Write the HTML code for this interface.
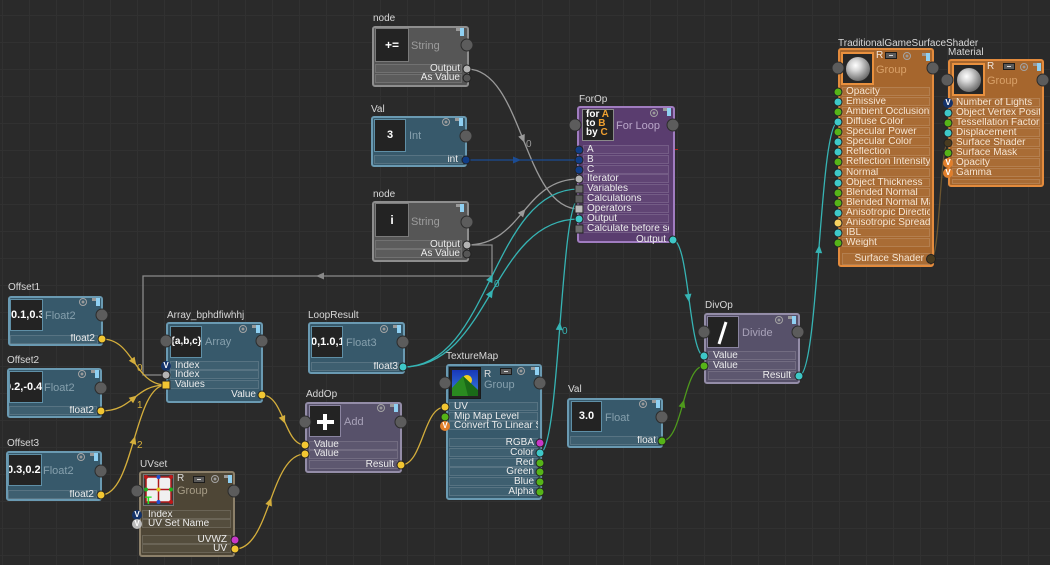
<!DOCTYPE html>
<html><head><meta charset="utf-8"><style>
*{margin:0;padding:0}
body{width:1050px;height:565px;overflow:hidden;position:relative;background:#2a2a2a;font-family:"Liberation Sans",Arial,sans-serif}
#grid{position:absolute;left:0;top:0;width:1050px;height:565px;background-image:linear-gradient(#313131 1px,transparent 1px),linear-gradient(90deg,#313131 1px,transparent 1px);background-size:27px 27px;background-position:2px 15px}
.a{position:absolute}
.n{position:absolute;box-sizing:border-box;border:2px solid;border-radius:3px}
.tl{background:#37596b;border-color:#6a9ab2}
.gy{background:#565656;border-color:#8e8e8e}
.pu{background:#5a3d6f;border-color:#a07cc0}
.lv{background:#57516a;border-color:#948da8}
.ol{background:#4e4636;border-color:#8c806a}
.or{background:#a6662d;border-color:#e38b3d}
.lb{position:absolute;font-size:10px;line-height:12px;color:#d8d8d8;white-space:nowrap}
.th{position:absolute;box-sizing:border-box;background:#232323;border:1px solid #5f8fa6;color:#fff;font-weight:bold;text-align:center;overflow:hidden;white-space:nowrap;font-size:11px}
.ty{position:absolute;font-size:11px;line-height:12px;color:#86a0ad;white-space:nowrap}
.b{position:absolute;height:9px;box-sizing:border-box;border:1px solid rgba(255,255,255,.13);background:rgba(255,255,255,.04)}
.t{position:absolute;font-size:10px;line-height:10px;color:#ececec;white-space:nowrap;overflow:hidden}
.r{text-align:right}
.c{position:absolute;transform:translate(-50%,-50%);box-sizing:border-box;border-radius:50%}
.mp{width:13px;height:13px;background:#5c5c5c;border:1px solid #2c2c2c}
.p{width:9px;height:9px;border:1px solid #222}
.sq{border-radius:0}
.cy{background:#3ec8c8}.gn{background:#56b418}.yl{background:#f2c632}.mg{background:#c838c8}.bl{background:#113d86}.lg{background:#b4b4b4}.dg{background:#565656}.br{background:#4a3c20}
.v{width:10px;height:10px;font-size:8px;line-height:10px;text-align:center;font-weight:bold;color:#fff;background:#14336a;border:none}
.vo{background:#e07f2c}
.vw{background:#bcbcbc}
.gear{width:8px;height:8px;border:1.5px solid #a4a4a4;background:radial-gradient(circle,#999 0 1.2px,transparent 1.8px)}
.li{position:absolute;width:4px;height:8px;background:#8fd0f2}
.li:before{content:"";position:absolute;left:-4px;top:0;width:4px;height:3px;background:#9a9a9a}
.ri{position:absolute;width:12px;height:7px;box-sizing:border-box;border:1px solid #1c1c1c;background:#5a5a5a}
.ri:after{content:"";position:absolute;left:3px;top:2px;width:4px;height:1px;background:#ddd}
.R{position:absolute;font-size:10px;line-height:12px;color:#f0e6dc}
</style></head><body>
<div id="grid"></div>

<svg class="a" style="left:0;top:0" width="1050" height="565">
<g fill="none" stroke-width="1.3">
<path d="M467,69 C523,69 523,209 579,209" stroke="#9a9a9a"/>
<path d="M466,160 L579,160" stroke="#1b4c94"/>
<path d="M467,245 C523,245 523,179 579,179" stroke="#9a9a9a"/>
<path d="M467,245 H492 V276 H143 V375 H166" stroke="#8a8a8a"/>
<path d="M403,367 C491,367 491,189 579,189" stroke="#36b4b4"/>
<path d="M403,367 C491,367 491,219 579,219" stroke="#36b4b4"/>
<path d="M540,453 C560,453 560,199 579,199" stroke="#36b4b4"/>
<path d="M673,240 C689,240 689,356 704,356" stroke="#36b4b4"/>
<path d="M799,376 C819,376 819,122 838,122" stroke="#36b4b4"/>
<path d="M662,441 C683,441 683,366 704,366" stroke="#4e9a1c"/>
<path d="M102,339 C134,339 134,385 166,385" stroke="#d4ae3c"/>
<path d="M101,411 C134,411 134,385 166,385" stroke="#d4ae3c"/>
<path d="M101,495 C134,495 134,385 166,385" stroke="#d4ae3c"/>
<path d="M262,395 C284,395 284,445 305,445" stroke="#d4ae3c"/>
<path d="M235,549 C270,549 270,454 305,454" stroke="#d4ae3c"/>
<path d="M401,465 C423,465 423,407 445,407" stroke="#d4ae3c"/>
<path d="M931,259 C940,259 940,143 948,143" stroke="#6b5530"/>
</g>
<g>
<polygon points="-4,-3.5 4,0 -4,3.5" fill="#9a9a9a" transform="translate(523,139) rotate(68.2)"/>
<polygon points="-4,-3.5 4,0 -4,3.5" fill="#1b4c94" transform="translate(517,160)"/>
<polygon points="-4,-3.5 4,0 -4,3.5" fill="#9a9a9a" transform="translate(523,212) rotate(-49.7)"/>
<polygon points="-4,-3.5 4,0 -4,3.5" fill="#8a8a8a" transform="translate(320,276) rotate(180)"/>
<polygon points="-4,-3.5 4,0 -4,3.5" fill="#36b4b4" transform="translate(491,278) rotate(-63.7)"/>
<polygon points="-4,-3.5 4,0 -4,3.5" fill="#36b4b4" transform="translate(491,293) rotate(-59.3)"/>
<polygon points="-4,-3.5 4,0 -4,3.5" fill="#36b4b4" transform="translate(559.5,326) rotate(-85.6)"/>
<polygon points="-4,-3.5 4,0 -4,3.5" fill="#36b4b4" transform="translate(688.5,298) rotate(82.4)"/>
<polygon points="-4,-3.5 4,0 -4,3.5" fill="#36b4b4" transform="translate(819,249) rotate(-85.6)"/>
<polygon points="-4,-3.5 4,0 -4,3.5" fill="#4e9a1c" transform="translate(683,403.5) rotate(-74.4)"/>
<polygon points="-4,-3.5 4,0 -4,3.5" fill="#d4ae3c" transform="translate(134,362) rotate(55.2)"/>
<polygon points="-4,-3.5 4,0 -4,3.5" fill="#d4ae3c" transform="translate(134,398) rotate(-38.7)"/>
<polygon points="-4,-3.5 4,0 -4,3.5" fill="#d4ae3c" transform="translate(134,440) rotate(-73.6)"/>
<polygon points="-4,-3.5 4,0 -4,3.5" fill="#d4ae3c" transform="translate(283.5,420) rotate(66.7)"/>
<polygon points="-4,-3.5 4,0 -4,3.5" fill="#d4ae3c" transform="translate(270,501.5) rotate(-69.8)"/>
</g>
<g font-family="Liberation Sans, sans-serif" font-size="10">
<text x="526" y="147" fill="#9a9a9a">0</text>
<text x="494" y="287" fill="#36b4b4">0</text>
<text x="562" y="334" fill="#36b4b4">0</text>
<text x="137" y="371" fill="#d4ae3c">0</text>
<text x="137" y="408" fill="#d4ae3c">1</text>
<text x="137" y="448" fill="#d4ae3c">2</text>
</g>
<rect x="674" y="149" width="4" height="1" fill="#c02020"/>
</svg>

<!-- node += String -->
<div class="lb" style="left:373px;top:13px">node</div>
<div class="n gy" style="left:372px;top:26px;width:97px;height:61px"></div>
<div class="th" style="left:375px;top:28px;width:34px;height:34px;border-color:#7a7a7a;font-size:12px;line-height:32px">+=</div>
<div class="ty" style="left:411px;top:40px;color:#9c9c9c">String</div>
<div class="li" style="left:460px;top:28px"></div>
<div class="b" style="left:375px;top:64px;width:87px"></div>
<div class="b" style="left:375px;top:74px;width:87px"></div>
<div class="t r" style="left:375px;top:64px;width:85px">Output</div>
<div class="t r" style="left:375px;top:73px;width:85px">As Value</div>
<div class="c mp" style="left:467px;top:45px"></div>
<div class="c p lg" style="left:467px;top:69px"></div>
<div class="c p dg" style="left:467px;top:78px"></div>

<!-- Val Int -->
<div class="lb" style="left:371px;top:104px">Val</div>
<div class="n tl" style="left:371px;top:116px;width:96px;height:51px"></div>
<div class="th" style="left:374px;top:119px;width:32px;height:33px;line-height:31px">3</div>
<div class="ty" style="left:409px;top:130px">Int</div>
<div class="c gear" style="left:446px;top:122px"></div>
<div class="li" style="left:459px;top:118px"></div>
<div class="b" style="left:374px;top:155px;width:89px"></div>
<div class="t r" style="left:374px;top:155px;width:84px">int</div>
<div class="c mp" style="left:466px;top:136px"></div>
<div class="c p bl" style="left:466px;top:160px"></div>

<!-- node i String -->
<div class="lb" style="left:373px;top:189px">node</div>
<div class="n gy" style="left:372px;top:201px;width:97px;height:61px"></div>
<div class="th" style="left:375px;top:203px;width:34px;height:34px;border-color:#7a7a7a;font-size:12px;line-height:32px">i</div>
<div class="ty" style="left:411px;top:216px;color:#9c9c9c">String</div>
<div class="li" style="left:460px;top:204px"></div>
<div class="b" style="left:375px;top:240px;width:87px"></div>
<div class="b" style="left:375px;top:249px;width:87px"></div>
<div class="t r" style="left:375px;top:240px;width:85px">Output</div>
<div class="t r" style="left:375px;top:249px;width:85px">As Value</div>
<div class="c mp" style="left:467px;top:222px"></div>
<div class="c p lg" style="left:467px;top:245px"></div>
<div class="c p dg" style="left:467px;top:254px"></div>

<!-- ForOp -->
<div class="lb" style="left:579px;top:94px">ForOp</div>
<div class="n pu" style="left:577px;top:106px;width:98px;height:137px"></div>
<div class="th" style="left:582px;top:109px;width:32px;height:32px;border-color:#8a8a8a"></div>
<div class="a" style="left:586px;top:110px;font-size:10px;line-height:9px;font-weight:bold;color:#fff;white-space:nowrap">for <span style="color:#f0a030">A</span><br>to <span style="color:#f0a030">B</span><br>by <span style="color:#f0a030">C</span></div>
<div class="ty" style="left:616px;top:120px;color:#b9a6c9">For Loop</div>
<div class="c gear" style="left:654px;top:113px"></div>
<div class="li" style="left:667px;top:108px"></div>
<div class="b" style="left:583px;top:145px;width:86px"></div>
<div class="b" style="left:583px;top:155px;width:86px"></div>
<div class="b" style="left:583px;top:165px;width:86px"></div>
<div class="b" style="left:583px;top:174px;width:86px"></div>
<div class="b" style="left:583px;top:184px;width:86px"></div>
<div class="b" style="left:583px;top:194px;width:86px"></div>
<div class="b" style="left:583px;top:204px;width:86px"></div>
<div class="b" style="left:583px;top:214px;width:86px"></div>
<div class="b" style="left:583px;top:224px;width:86px"></div>
<div class="t" style="left:587px;top:145px;width:82px">A</div>
<div class="t" style="left:587px;top:155px;width:82px">B</div>
<div class="t" style="left:587px;top:165px;width:82px">C</div>
<div class="t" style="left:587px;top:174px;width:82px">Iterator</div>
<div class="t" style="left:587px;top:184px;width:82px">Variables</div>
<div class="t" style="left:587px;top:194px;width:82px">Calculations</div>
<div class="t" style="left:587px;top:204px;width:82px">Operators</div>
<div class="t" style="left:587px;top:214px;width:82px">Output</div>
<div class="t" style="left:587px;top:224px;width:82px">Calculate before sc</div>
<div class="t r" style="left:587px;top:235px;width:79px">Output</div>
<div class="c mp" style="left:575px;top:125px"></div>
<div class="c mp" style="left:673px;top:125px"></div>
<div class="c p bl" style="left:579px;top:150px"></div>
<div class="c p bl" style="left:579px;top:160px"></div>
<div class="c p bl" style="left:579px;top:170px"></div>
<div class="c p lg" style="left:579px;top:179px"></div>
<div class="c p sq" style="left:579px;top:189px;background:#6e6e6e"></div>
<div class="c p sq" style="left:579px;top:199px;background:#5e5e5e"></div>
<div class="c p sq" style="left:579px;top:209px;background:#bcbcbc"></div>
<div class="c p cy" style="left:579px;top:219px"></div>
<div class="c p sq" style="left:579px;top:229px;background:#6e6e6e"></div>
<div class="c p cy" style="left:673px;top:240px"></div>

<!-- TraditionalGameSurfaceShader -->
<div class="lb" style="left:838px;top:38px">TraditionalGameSurfaceShader</div>
<div class="n or" style="left:838px;top:48px;width:96px;height:219px"></div>
<div class="th" style="left:841px;top:52px;width:33px;height:33px;border:2px solid #e8903e;background:#262626"><div style="position:absolute;left:3px;top:3px;width:24px;height:24px;border-radius:50%;background:radial-gradient(circle at 40% 35%,#ffffff 0,#d8d8d8 25%,#8a8a8a 60%,#3a3a3a 100%)"></div></div>
<div class="R" style="left:876px;top:50px">R</div>
<div class="ri" style="left:885px;top:52px"></div>
<div class="c gear" style="left:907px;top:56px"></div>
<div class="li" style="left:926px;top:53px"></div>
<div class="ty" style="left:876px;top:64px;color:#d8a068">Group</div>
<div class="c mp" style="left:838px;top:68px"></div>
<div class="c mp" style="left:933px;top:68px"></div>
<div class="b" style="left:842px;top:87px;width:88px"></div>
<div class="b" style="left:842px;top:97px;width:88px"></div>
<div class="b" style="left:842px;top:107px;width:88px"></div>
<div class="b" style="left:842px;top:117px;width:88px"></div>
<div class="b" style="left:842px;top:127px;width:88px"></div>
<div class="b" style="left:842px;top:137px;width:88px"></div>
<div class="b" style="left:842px;top:147px;width:88px"></div>
<div class="b" style="left:842px;top:157px;width:88px"></div>
<div class="b" style="left:842px;top:168px;width:88px"></div>
<div class="b" style="left:842px;top:178px;width:88px"></div>
<div class="b" style="left:842px;top:188px;width:88px"></div>
<div class="b" style="left:842px;top:198px;width:88px"></div>
<div class="b" style="left:842px;top:208px;width:88px"></div>
<div class="b" style="left:842px;top:218px;width:88px"></div>
<div class="b" style="left:842px;top:228px;width:88px"></div>
<div class="b" style="left:842px;top:238px;width:88px"></div>
<div class="t" style="left:846px;top:87px;width:84px;color:#f6e6d4">Opacity</div>
<div class="t" style="left:846px;top:97px;width:84px;color:#f6e6d4">Emissive</div>
<div class="t" style="left:846px;top:107px;width:84px;color:#f6e6d4">Ambient Occlusion</div>
<div class="t" style="left:846px;top:117px;width:84px;color:#f6e6d4">Diffuse Color</div>
<div class="t" style="left:846px;top:127px;width:84px;color:#f6e6d4">Specular Power</div>
<div class="t" style="left:846px;top:137px;width:84px;color:#f6e6d4">Specular Color</div>
<div class="t" style="left:846px;top:147px;width:84px;color:#f6e6d4">Reflection</div>
<div class="t" style="left:846px;top:157px;width:84px;color:#f6e6d4">Reflection Intensity</div>
<div class="t" style="left:846px;top:168px;width:84px;color:#f6e6d4">Normal</div>
<div class="t" style="left:846px;top:178px;width:84px;color:#f6e6d4">Object Thickness</div>
<div class="t" style="left:846px;top:188px;width:84px;color:#f6e6d4">Blended Normal</div>
<div class="t" style="left:846px;top:198px;width:84px;color:#f6e6d4">Blended Normal Map</div>
<div class="t" style="left:846px;top:208px;width:84px;color:#f6e6d4">Anisotropic Direction</div>
<div class="t" style="left:846px;top:218px;width:84px;color:#f6e6d4">Anisotropic Spread</div>
<div class="t" style="left:846px;top:228px;width:84px;color:#f6e6d4">IBL</div>
<div class="t" style="left:846px;top:238px;width:84px;color:#f6e6d4">Weight</div>
<div class="b" style="left:842px;top:253px;width:88px;height:12px"></div>
<div class="t r" style="left:842px;top:254px;width:82px;color:#f6e6d4">Surface Shader</div>
<div class="c p gn" style="left:838px;top:92px"></div>
<div class="c p cy" style="left:838px;top:102px"></div>
<div class="c p gn" style="left:838px;top:112px"></div>
<div class="c p cy" style="left:838px;top:122px"></div>
<div class="c p gn" style="left:838px;top:132px"></div>
<div class="c p cy" style="left:838px;top:142px"></div>
<div class="c p cy" style="left:838px;top:152px"></div>
<div class="c p gn" style="left:838px;top:162px"></div>
<div class="c p cy" style="left:838px;top:173px"></div>
<div class="c p cy" style="left:838px;top:183px"></div>
<div class="c p gn" style="left:838px;top:193px"></div>
<div class="c p gn" style="left:838px;top:203px"></div>
<div class="c p cy" style="left:838px;top:213px"></div>
<div class="c p" style="left:838px;top:223px;background:#f4d060"></div>
<div class="c p cy" style="left:838px;top:233px"></div>
<div class="c p gn" style="left:838px;top:243px"></div>
<div class="c p br" style="left:931px;top:259px;width:10px;height:10px"></div>

<!-- Material -->
<div class="lb" style="left:948px;top:47px">Material</div>
<div class="n or" style="left:948px;top:59px;width:96px;height:128px"></div>
<div class="th" style="left:952px;top:63px;width:33px;height:33px;border:2px solid #e8903e;background:#262626"><div style="position:absolute;left:3px;top:3px;width:24px;height:24px;border-radius:50%;background:radial-gradient(circle at 40% 35%,#ffffff 0,#d8d8d8 25%,#8a8a8a 60%,#3a3a3a 100%)"></div></div>
<div class="R" style="left:987px;top:61px">R</div>
<div class="ri" style="left:1003px;top:63px"></div>
<div class="c gear" style="left:1024px;top:67px"></div>
<div class="li" style="left:1037px;top:63px"></div>
<div class="ty" style="left:987px;top:75px;color:#d8a068">Group</div>
<div class="c mp" style="left:947px;top:80px"></div>
<div class="c mp" style="left:1043px;top:80px"></div>
<div class="b" style="left:952px;top:98px;width:88px"></div>
<div class="b" style="left:952px;top:108px;width:88px"></div>
<div class="b" style="left:952px;top:118px;width:88px"></div>
<div class="b" style="left:952px;top:128px;width:88px"></div>
<div class="b" style="left:952px;top:138px;width:88px"></div>
<div class="b" style="left:952px;top:148px;width:88px"></div>
<div class="b" style="left:952px;top:158px;width:88px"></div>
<div class="b" style="left:952px;top:168px;width:88px"></div>
<div class="b" style="left:952px;top:179px;width:88px;height:5px"></div>
<div class="t" style="left:956px;top:98px;width:84px;color:#f6e6d4">Number of Lights</div>
<div class="t" style="left:956px;top:108px;width:84px;color:#f6e6d4">Object Vertex Position</div>
<div class="t" style="left:956px;top:118px;width:84px;color:#f6e6d4">Tessellation Factor</div>
<div class="t" style="left:956px;top:128px;width:84px;color:#f6e6d4">Displacement</div>
<div class="t" style="left:956px;top:138px;width:84px;color:#f6e6d4">Surface Shader</div>
<div class="t" style="left:956px;top:148px;width:84px;color:#f6e6d4">Surface Mask</div>
<div class="t" style="left:956px;top:158px;width:84px;color:#f6e6d4">Opacity</div>
<div class="t" style="left:956px;top:168px;width:84px;color:#f6e6d4">Gamma</div>
<div class="c v" style="left:948px;top:103px">V</div>
<div class="c p cy" style="left:948px;top:113px"></div>
<div class="c p gn" style="left:948px;top:123px"></div>
<div class="c p cy" style="left:948px;top:133px"></div>
<div class="c p br" style="left:948px;top:143px"></div>
<div class="c p gn" style="left:948px;top:153px"></div>
<div class="c v vo" style="left:948px;top:163px">V</div>
<div class="c v vo" style="left:948px;top:173px">V</div>

<!-- Offset1 -->
<div class="lb" style="left:8px;top:282px">Offset1</div>
<div class="n tl" style="left:8px;top:296px;width:95px;height:50px"></div>
<div class="th" style="left:10px;top:299px;width:33px;height:32px;line-height:30px">0.1,0.3</div>
<div class="ty" style="left:45px;top:310px">Float2</div>
<div class="c gear" style="left:83px;top:302px"></div>
<div class="li" style="left:96px;top:298px"></div>
<div class="b" style="left:10px;top:335px;width:88px"></div>
<div class="t r" style="left:10px;top:334px;width:85px">float2</div>
<div class="c mp" style="left:102px;top:315px"></div>
<div class="c p yl" style="left:102px;top:339px"></div>

<!-- Offset2 -->
<div class="lb" style="left:7px;top:355px">Offset2</div>
<div class="n tl" style="left:7px;top:368px;width:95px;height:50px"></div>
<div class="th" style="left:9px;top:371px;width:34px;height:32px;line-height:30px"><span style="position:absolute;left:-5px;top:0">0.2,-0.4</span></div>
<div class="ty" style="left:44px;top:382px">Float2</div>
<div class="c gear" style="left:82px;top:374px"></div>
<div class="li" style="left:95px;top:370px"></div>
<div class="b" style="left:9px;top:406px;width:88px"></div>
<div class="t r" style="left:9px;top:406px;width:85px">float2</div>
<div class="c mp" style="left:101px;top:388px"></div>
<div class="c p yl" style="left:101px;top:411px"></div>

<!-- Offset3 -->
<div class="lb" style="left:7px;top:438px">Offset3</div>
<div class="n tl" style="left:6px;top:451px;width:96px;height:50px"></div>
<div class="th" style="left:8px;top:454px;width:34px;height:32px;line-height:30px"><span style="position:absolute;left:-2px;top:0">0.3,0.2</span></div>
<div class="ty" style="left:43px;top:465px">Float2</div>
<div class="c gear" style="left:81px;top:457px"></div>
<div class="li" style="left:94px;top:453px"></div>
<div class="b" style="left:8px;top:490px;width:89px"></div>
<div class="t r" style="left:8px;top:490px;width:86px">float2</div>
<div class="c mp" style="left:101px;top:471px"></div>
<div class="c p yl" style="left:101px;top:495px"></div>

<!-- Array -->
<div class="lb" style="left:167px;top:310px">Array_bphdfiwhhj</div>
<div class="n tl" style="left:166px;top:322px;width:97px;height:81px"></div>
<div class="th" style="left:170px;top:326px;width:32px;height:32px;line-height:30px;font-size:10px">{a,b,c}</div>
<div class="ty" style="left:205px;top:336px">Array</div>
<div class="c gear" style="left:243px;top:329px"></div>
<div class="li" style="left:256px;top:325px"></div>
<div class="b" style="left:170px;top:361px;width:89px"></div>
<div class="b" style="left:170px;top:370px;width:89px"></div>
<div class="b" style="left:170px;top:380px;width:89px"></div>
<div class="t" style="left:175px;top:361px;width:84px">Index</div>
<div class="t" style="left:175px;top:370px;width:84px">Index</div>
<div class="t" style="left:175px;top:380px;width:84px">Values</div>
<div class="t r" style="left:170px;top:390px;width:86px">Value</div>
<div class="c mp" style="left:166px;top:341px"></div>
<div class="c mp" style="left:262px;top:341px"></div>
<div class="c v" style="left:166px;top:366px">V</div>
<div class="c p lg" style="left:166px;top:375px"></div>
<div class="c p sq yl" style="left:166px;top:385px"></div>
<div class="c p yl" style="left:262px;top:395px"></div>

<!-- LoopResult -->
<div class="lb" style="left:308px;top:310px">LoopResult</div>
<div class="n tl" style="left:308px;top:322px;width:97px;height:52px"></div>
<div class="th" style="left:311px;top:326px;width:32px;height:32px;line-height:30px"><span style="position:absolute;left:-1px;top:0">0,1.0,1</span></div>
<div class="ty" style="left:346px;top:337px">Float3</div>
<div class="c gear" style="left:384px;top:329px"></div>
<div class="li" style="left:397px;top:325px"></div>
<div class="b" style="left:311px;top:362px;width:88px"></div>
<div class="t r" style="left:311px;top:362px;width:87px">float3</div>
<div class="c mp" style="left:403px;top:342px"></div>
<div class="c p cy" style="left:403px;top:367px"></div>

<!-- AddOp -->
<div class="lb" style="left:306px;top:389px">AddOp</div>
<div class="n lv" style="left:305px;top:402px;width:97px;height:71px"></div>
<div class="th" style="left:309px;top:405px;width:32px;height:32px;border-color:#8a84a0"></div>
<div class="a" style="left:317px;top:420px;width:17px;height:4px;background:#fff"></div>
<div class="a" style="left:323px;top:414px;width:4px;height:16px;background:#fff"></div>
<div class="ty" style="left:344px;top:416px;color:#a8a2b8">Add</div>
<div class="c gear" style="left:381px;top:408px"></div>
<div class="li" style="left:394px;top:404px"></div>
<div class="b" style="left:309px;top:441px;width:89px"></div>
<div class="b" style="left:309px;top:450px;width:89px"></div>
<div class="b" style="left:309px;top:460px;width:89px"></div>
<div class="t" style="left:314px;top:440px;width:84px">Value</div>
<div class="t" style="left:314px;top:449px;width:84px">Value</div>
<div class="t r" style="left:309px;top:460px;width:85px">Result</div>
<div class="c mp" style="left:305px;top:422px"></div>
<div class="c mp" style="left:401px;top:422px"></div>
<div class="c p yl" style="left:305px;top:445px"></div>
<div class="c p yl" style="left:305px;top:454px"></div>
<div class="c p yl" style="left:401px;top:465px"></div>

<!-- UVset -->
<div class="lb" style="left:140px;top:459px">UVset</div>
<div class="n ol" style="left:139px;top:471px;width:96px;height:86px"></div>
<div class="th" style="left:143px;top:474px;width:31px;height:32px;border-color:#777;background:#3a3a3a">
<svg width="29" height="30" style="position:absolute;left:0;top:0"><rect x="2" y="2" width="25" height="25" fill="#f0f0f0" stroke="#b01818" stroke-width="1.5"/><line x1="14.5" y1="2" x2="14.5" y2="27" stroke="#b01818" stroke-width="1.5"/><line x1="2" y1="14.5" x2="27" y2="14.5" stroke="#b01818" stroke-width="1.5"/><circle cx="2" cy="2" r="2" fill="#c01818"/><circle cx="14.5" cy="2" r="2" fill="#2050d0"/><circle cx="27" cy="2" r="2" fill="#c01818"/><circle cx="2" cy="14.5" r="2" fill="#20b020"/><circle cx="14.5" cy="14.5" r="2" fill="#e0d020"/><circle cx="27" cy="14.5" r="2" fill="#20b020"/><circle cx="14.5" cy="27" r="2" fill="#2050d0"/><circle cx="27" cy="27" r="2" fill="#c01818"/><text x="1" y="29" fill="#20e020" font-size="11" font-weight="bold" font-family="Liberation Sans, sans-serif">T</text></svg></div>
<div class="R" style="left:177px;top:473px;color:#ddd">R</div>
<div class="ri" style="left:193px;top:476px"></div>
<div class="c gear" style="left:215px;top:479px"></div>
<div class="li" style="left:228px;top:475px"></div>
<div class="ty" style="left:177px;top:485px;color:#a69c86">Group</div>
<div class="c mp" style="left:137px;top:491px"></div>
<div class="c mp" style="left:234px;top:491px"></div>
<div class="b" style="left:142px;top:510px;width:89px"></div>
<div class="b" style="left:142px;top:519px;width:89px"></div>
<div class="b" style="left:142px;top:535px;width:89px"></div>
<div class="b" style="left:142px;top:544px;width:89px"></div>
<div class="t" style="left:148px;top:510px;width:83px">Index</div>
<div class="t" style="left:148px;top:519px;width:83px">UV Set Name</div>
<div class="t r" style="left:142px;top:535px;width:85px">UVWZ</div>
<div class="t r" style="left:142px;top:544px;width:85px">UV</div>
<div class="c v" style="left:137px;top:515px">V</div>
<div class="c v vw" style="left:137px;top:524px">V</div>
<div class="c p mg" style="left:235px;top:540px"></div>
<div class="c p yl" style="left:235px;top:549px"></div>

<!-- TextureMap -->
<div class="lb" style="left:446px;top:351px">TextureMap</div>
<div class="n tl" style="left:446px;top:364px;width:96px;height:136px"></div>
<div class="th" style="left:449px;top:367px;width:32px;height:32px;border-color:#1a1a1a">
<svg width="30" height="30" style="position:absolute;left:0;top:0"><defs><linearGradient id="sk" x1="0" y1="0" x2="0" y2="1"><stop offset="0" stop-color="#1838b8"/><stop offset="1" stop-color="#3a80e0"/></linearGradient></defs><rect x="2" y="2" width="26" height="26" fill="url(#sk)"/><circle cx="17" cy="12" r="5" fill="#f0d020"/><polygon points="2,28 2,20 13,8 28,22 28,28" fill="#2a8a20"/><polygon points="13,8 28,22 28,28 18,28" fill="#1a6a18"/></svg></div>
<div class="R" style="left:484px;top:369px;color:#ddd">R</div>
<div class="ri" style="left:500px;top:368px"></div>
<div class="c gear" style="left:521px;top:371px"></div>
<div class="li" style="left:535px;top:367px"></div>
<div class="ty" style="left:484px;top:379px">Group</div>
<div class="c mp" style="left:445px;top:383px"></div>
<div class="c mp" style="left:540px;top:383px"></div>
<div class="b" style="left:449px;top:402px;width:89px"></div>
<div class="b" style="left:449px;top:412px;width:89px"></div>
<div class="b" style="left:449px;top:421px;width:89px"></div>
<div class="t" style="left:454px;top:402px;width:84px">UV</div>
<div class="t" style="left:454px;top:412px;width:84px">Mip Map Level</div>
<div class="t" style="left:454px;top:421px;width:84px">Convert To Linear Space</div>
<div class="b" style="left:449px;top:438px;width:89px"></div>
<div class="b" style="left:449px;top:448px;width:89px"></div>
<div class="b" style="left:449px;top:458px;width:89px"></div>
<div class="b" style="left:449px;top:467px;width:89px"></div>
<div class="b" style="left:449px;top:477px;width:89px"></div>
<div class="b" style="left:449px;top:487px;width:89px"></div>
<div class="t r" style="left:449px;top:438px;width:85px">RGBA</div>
<div class="t r" style="left:449px;top:448px;width:85px">Color</div>
<div class="t r" style="left:449px;top:458px;width:85px">Red</div>
<div class="t r" style="left:449px;top:467px;width:85px">Green</div>
<div class="t r" style="left:449px;top:477px;width:85px">Blue</div>
<div class="t r" style="left:449px;top:487px;width:85px">Alpha</div>
<div class="c p yl" style="left:445px;top:407px"></div>
<div class="c p gn" style="left:445px;top:417px"></div>
<div class="c v vo" style="left:445px;top:426px">V</div>
<div class="c p mg" style="left:540px;top:443px"></div>
<div class="c p cy" style="left:540px;top:453px"></div>
<div class="c p gn" style="left:540px;top:463px"></div>
<div class="c p gn" style="left:540px;top:472px"></div>
<div class="c p gn" style="left:540px;top:482px"></div>
<div class="c p gn" style="left:540px;top:492px"></div>

<!-- DivOp -->
<div class="lb" style="left:705px;top:300px">DivOp</div>
<div class="n lv" style="left:704px;top:313px;width:96px;height:71px"></div>
<div class="th" style="left:707px;top:316px;width:32px;height:32px;border-color:#8a84a0">
<svg width="30" height="30" style="position:absolute;left:0;top:0"><line x1="18" y1="5" x2="11" y2="27" stroke="#fff" stroke-width="3"/></svg></div>
<div class="ty" style="left:742px;top:327px;color:#a8a2b8">Divide</div>
<div class="c gear" style="left:779px;top:320px"></div>
<div class="li" style="left:792px;top:316px"></div>
<div class="b" style="left:708px;top:351px;width:88px"></div>
<div class="b" style="left:708px;top:361px;width:88px"></div>
<div class="b" style="left:708px;top:371px;width:88px"></div>
<div class="t" style="left:713px;top:351px;width:83px">Value</div>
<div class="t" style="left:713px;top:361px;width:83px">Value</div>
<div class="t r" style="left:708px;top:371px;width:83px">Result</div>
<div class="c mp" style="left:704px;top:332px"></div>
<div class="c mp" style="left:798px;top:332px"></div>
<div class="c p cy" style="left:704px;top:356px"></div>
<div class="c p gn" style="left:704px;top:366px"></div>
<div class="c p cy" style="left:799px;top:376px"></div>

<!-- Val Float -->
<div class="lb" style="left:568px;top:384px">Val</div>
<div class="n tl" style="left:567px;top:398px;width:96px;height:50px"></div>
<div class="th" style="left:571px;top:401px;width:31px;height:31px;line-height:29px">3.0</div>
<div class="ty" style="left:605px;top:412px">Float</div>
<div class="c gear" style="left:643px;top:404px"></div>
<div class="li" style="left:656px;top:400px"></div>
<div class="b" style="left:570px;top:436px;width:88px"></div>
<div class="t r" style="left:570px;top:436px;width:86px">float</div>
<div class="c mp" style="left:662px;top:417px"></div>
<div class="c p gn" style="left:662px;top:441px"></div>

</body></html>
